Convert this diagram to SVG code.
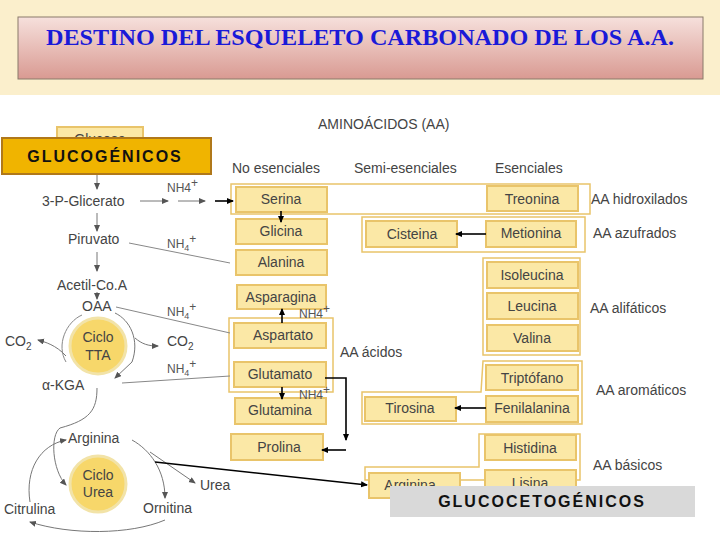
<svg xmlns="http://www.w3.org/2000/svg" width="720" height="540" viewBox="0 0 720 540">
<defs>
<linearGradient id="tg" x1="0" y1="0" x2="0" y2="1"><stop offset="0" stop-color="#f6e0dc"/><stop offset="1" stop-color="#d99a92"/></linearGradient>
<marker id="ag" markerWidth="8" markerHeight="8" refX="6" refY="3" orient="auto" markerUnits="userSpaceOnUse"><path d="M0,0 L7,3 L0,6 Z" fill="#555"/></marker>
<marker id="ab" markerWidth="8" markerHeight="8" refX="6" refY="3" orient="auto" markerUnits="userSpaceOnUse"><path d="M0,0 L7,3 L0,6 Z" fill="#000"/></marker>
<style>
.b{fill:#fbe8a6;stroke:#e9c46a;stroke-width:2}
.o{fill:none;stroke:#e9c46a;stroke-width:1.5}
.t{font-family:"Liberation Sans",Arial,sans-serif;font-size:14px;fill:#444}
.s{font-family:"Liberation Sans",Arial,sans-serif;font-size:12px;fill:#555}
.g{fill:none;stroke:#777;stroke-width:1;marker-end:url(#ag)}
.gl{fill:none;stroke:#888;stroke-width:1}
.k{fill:none;stroke:#000;stroke-width:1.6;marker-end:url(#ab)}
.c{fill:#f7d76a;stroke:#f2e3a8;stroke-width:3}
</style>
</defs>
<rect width="720" height="95" fill="#fbefcc"/>
<rect y="95" width="720" height="445" fill="#fff"/>
<rect x="18" y="17" width="685" height="62" fill="url(#tg)" stroke="#8a7a6a"/>
<text x="360" y="45" text-anchor="middle" font-family="Liberation Serif,serif" font-weight="bold" font-size="23" fill="#1a1ad8" textLength="628" lengthAdjust="spacingAndGlyphs">DESTINO DEL ESQUELETO CARBONADO DE LOS  A.A.</text>

<text x="318" y="129" class="t" font-size="16">AMINOÁCIDOS (AA)</text>
<text x="232" y="173" class="t">No esenciales</text>
<text x="354" y="173" class="t">Semi-esenciales</text>
<text x="495" y="173" class="t">Esenciales</text>

<g id="glucosa"><rect x="57" y="127" width="86" height="25" class="b"/><text x="100" y="144" class="t" text-anchor="middle">Glucosa</text></g>
<g id="glucogenicos"><rect x="2" y="138" width="209" height="36" fill="#f0b400" stroke="#b0781a" stroke-width="2"/><text x="105" y="162" text-anchor="middle" font-family="Liberation Sans,sans-serif" font-weight="bold" font-size="16" letter-spacing="2" fill="#111">GLUCOGÉNICOS</text></g>

<g id="groups">
<rect x="231" y="184" width="359" height="30" class="o"/>
<rect x="362" y="217" width="223" height="35" class="o"/>
<rect x="483" y="258" width="97" height="97" class="o"/>
<rect x="229" y="318" width="104" height="74" class="o"/>
<path d="M483,361 H582 V424 H362 V392 H481 Z" class="o"/>
<path d="M479,434 H580 V480 H365 V467 H479 Z" class="o"/>
</g>

<g id="serina"><rect x="236" y="187" width="91" height="25" class="b"/><text x="281" y="204" class="t" text-anchor="middle">Serina</text></g>
<g id="treonina"><rect x="487" y="186" width="91" height="25" class="b"/><text x="532" y="204" class="t" text-anchor="middle">Treonina</text></g>
<g id="glicina"><rect x="236" y="219" width="91" height="25" class="b"/><text x="281" y="236" class="t" text-anchor="middle">Glicina</text></g>
<g id="alanina"><rect x="236" y="250" width="91" height="25" class="b"/><text x="281" y="267" class="t" text-anchor="middle">Alanina</text></g>
<g id="asparagina"><rect x="237" y="285" width="89" height="24" class="b"/><text x="281" y="302" class="t" text-anchor="middle">Asparagina</text></g>
<g id="aspartato"><rect x="234" y="323" width="92" height="25" class="b"/><text x="283" y="340" class="t" text-anchor="middle">Aspartato</text></g>
<g id="glutamato"><rect x="234" y="362" width="92" height="25" class="b"/><text x="280" y="379" class="t" text-anchor="middle">Glutamato</text></g>
<g id="glutamina"><rect x="235" y="398" width="91" height="26" class="b"/><text x="280" y="415" class="t" text-anchor="middle">Glutamina</text></g>
<g id="prolina"><rect x="231" y="434" width="92" height="26" class="b"/><text x="279" y="452" class="t" text-anchor="middle">Prolina</text></g>
<g id="cisteina"><rect x="366" y="221" width="91" height="26" class="b"/><text x="412" y="239" class="t" text-anchor="middle">Cisteina</text></g>
<g id="metionina"><rect x="486" y="221" width="90" height="26" class="b"/><text x="531" y="238" class="t" text-anchor="middle">Metionina</text></g>
<g id="isoleucina"><rect x="487" y="262" width="91" height="26" class="b"/><text x="532" y="280" class="t" text-anchor="middle">Isoleucina</text></g>
<g id="leucina"><rect x="487" y="293" width="91" height="26" class="b"/><text x="532" y="311" class="t" text-anchor="middle">Leucina</text></g>
<g id="valina"><rect x="487" y="325" width="91" height="26" class="b"/><text x="532" y="343" class="t" text-anchor="middle">Valina</text></g>
<g id="triptofano"><rect x="486" y="365" width="92" height="25" class="b"/><text x="532" y="383" class="t" text-anchor="middle">Triptófano</text></g>
<g id="fenilalanina"><rect x="486" y="396" width="92" height="26" class="b"/><text x="532" y="413" class="t" text-anchor="middle">Fenilalanina</text></g>
<g id="tirosina"><rect x="365" y="397" width="91" height="24" class="b"/><text x="410" y="413" class="t" text-anchor="middle">Tirosina</text></g>
<g id="histidina"><rect x="485" y="435" width="91" height="25" class="b"/><text x="530" y="453" class="t" text-anchor="middle">Histidina</text></g>
<g id="lisina"><rect x="485" y="470" width="91" height="25" class="b"/><text x="530" y="488" class="t" text-anchor="middle">Lisina</text></g>
<g id="arginina2"><rect x="369" y="473" width="91" height="25" class="b"/><text x="410" y="490" class="t" text-anchor="middle">Arginina</text></g>
<g id="glucocetogenicos"><rect x="390" y="486" width="305" height="31" fill="#d9d9d9"/><text x="542" y="507" text-anchor="middle" font-family="Liberation Sans,sans-serif" font-weight="bold" font-size="16" letter-spacing="2" fill="#111">GLUCOCETOGÉNICOS</text></g>

<text x="591" y="204" class="t">AA hidroxilados</text>
<text x="593" y="238" class="t">AA azufrados</text>
<text x="590" y="313" class="t">AA alifáticos</text>
<text x="340" y="357" class="t">AA ácidos</text>
<text x="596" y="395" class="t">AA aromáticos</text>
<text x="593" y="470" class="t">AA básicos</text>

<g id="tta"><circle cx="98" cy="346" r="28" class="c"/><text x="98" y="342" class="t" text-anchor="middle">Ciclo</text><text x="98" y="360" class="t" text-anchor="middle">TTA</text></g>
<g id="urea-cycle"><circle cx="98" cy="484" r="28" class="c"/><text x="98" y="480" class="t" text-anchor="middle">Ciclo</text><text x="98" y="497" class="t" text-anchor="middle">Urea</text></g>

<text x="42" y="206" class="t">3-P-Glicerato</text>
<text x="68" y="244" class="t">Piruvato</text>
<text x="57" y="290" class="t">Acetil-Co.A</text>
<text x="82" y="311" class="t">OAA</text>
<text x="5" y="346" class="t">CO<tspan font-size="10" dy="4">2</tspan></text>
<text x="167" y="346" class="t">CO<tspan font-size="10" dy="4">2</tspan></text>
<text x="42" y="390" class="t">α-KGA</text>
<text x="68" y="443" class="t">Arginina</text>
<text x="200" y="490" class="t">Urea</text>
<text x="4" y="514" class="t">Citrulina</text>
<text x="143" y="513" class="t">Ornitina</text>
<text x="167" y="192" class="s">NH4<tspan dy="-5">+</tspan></text>
<text x="167" y="248" class="s">NH<tspan font-size="9" dy="3">4</tspan><tspan dy="-8">+</tspan></text>
<text x="167" y="316" class="s">NH<tspan font-size="9" dy="3">4</tspan><tspan dy="-8">+</tspan></text>
<text x="167" y="373" class="s">NH<tspan font-size="9" dy="3">4</tspan><tspan dy="-8">+</tspan></text>
<text x="299" y="318" class="s">NH4<tspan dy="-5">+</tspan></text>
<text x="299" y="399" class="s">NH4<tspan dy="-5">+</tspan></text>

<g id="connectors">
<path d="M97,175 V189" class="g"/>
<path d="M97,213 V231" class="g"/>
<path d="M97,252 V271" class="g"/>
<path d="M97,292 V299" class="g"/>
<path d="M140,201 H168" class="g"/>
<path d="M178,201 H205" class="g"/>
<path d="M129,243 L230,263" class="gl"/>
<path d="M116,307 L230,333" class="gl"/>
<path d="M122,383 L230,376" class="gl"/>
<path d="M82,315 C66,322 56,345 66,362" class="gl"/>
<path d="M66,356 C56,345 45,342 38,340" class="g"/>
<path d="M115,313 C130,320 140,340 132,362 L115,378" class="g"/>
<path d="M135,338 C142,344 148,346 158,346" class="g"/>
<path d="M97,388 C97,410 90,420 60,428 C50,435 52,470 66,485" class="g"/>
<path d="M30,502 C25,470 40,445 66,440" class="g"/>
<path d="M132,440 C150,450 165,470 165,498" class="g"/>
<path d="M150,452 L195,483" class="g"/>
<path d="M165,520 C130,535 70,535 30,522" class="g"/>
<path d="M215,201 H233" class="k"/>
<path d="M281,211 V222" class="k"/>
<path d="M282,323 V309" class="k"/>
<path d="M282,387 V399" class="k"/>
<path d="M325,378 H346 V440" class="k"/>
<path d="M346,450 H322" class="k"/>
<path d="M155,462 L367,485" class="k"/>
<path d="M486,234 H456" class="k"/>
<path d="M486,408 H455" class="k"/>
</g>
</svg>
